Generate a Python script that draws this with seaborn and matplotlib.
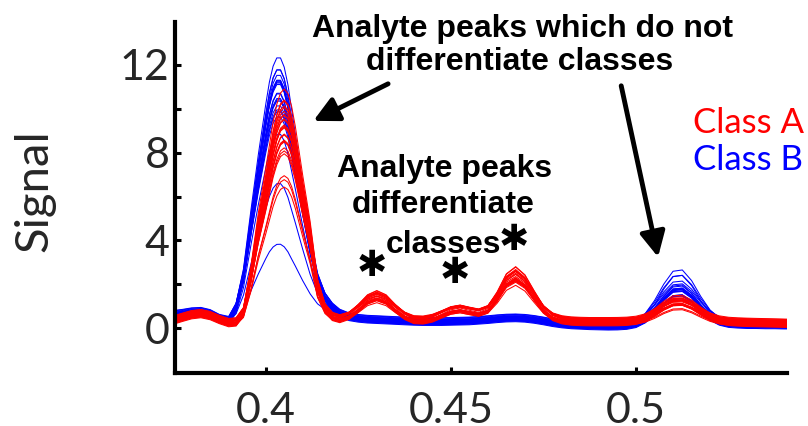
import numpy as np
import pandas as pd
import matplotlib
matplotlib.use("Agg")
import matplotlib.pyplot as plt
import seaborn as sns

# ---------------- data ----------------
# sampling positions of the traces
x_grid = [0.375, 0.3775, 0.38, 0.3825, 0.385, 0.3875, 0.39,
          0.392, 0.394, 0.396, 0.398, 0.400, 0.401, 0.402, 0.403, 0.404, 0.405, 0.406, 0.407, 0.408,
          0.410, 0.412, 0.414, 0.416, 0.418, 0.420,
          0.4225, 0.425, 0.4275, 0.43, 0.4325, 0.435, 0.4375, 0.44, 0.4425, 0.445, 0.4475, 0.45, 0.4525,
          0.455, 0.4575, 0.46, 0.4625, 0.465, 0.4675, 0.47, 0.4725, 0.475, 0.4775, 0.48, 0.4825,
          0.485, 0.4875, 0.49, 0.4925, 0.495, 0.4975, 0.5, 0.5025, 0.505, 0.5075, 0.51, 0.5125,
          0.515, 0.5175, 0.52, 0.5225, 0.525, 0.5275, 0.53, 0.5325, 0.535, 0.5375, 0.54, 0.5425]

# Class B (blue) baseline profile
blue_base = [0.60, 0.65, 0.72, 0.74, 0.64, 0.40, 0.20,
             0.18, 0.22, 0.26, 0.30, 0.33, 0.35, 0.36, 0.37, 0.38, 0.39, 0.40, 0.40, 0.42,
             0.45, 0.55, 0.62, 0.65, 0.62, 0.55,
             0.48, 0.42, 0.38, 0.36, 0.34, 0.32, 0.30, 0.28, 0.27, 0.27, 0.27, 0.28, 0.29,
             0.30, 0.33, 0.36, 0.40, 0.43, 0.44, 0.42, 0.37, 0.30, 0.22, 0.16, 0.12,
             0.10, 0.08, 0.07, 0.06, 0.06, 0.06, 0.06, 0.07, 0.08, 0.09, 0.10, 0.10,
             0.11, 0.12, 0.13, 0.14, 0.14, 0.14, 0.13, 0.13, 0.12, 0.12, 0.11, 0.11]

# Class A (red) baseline profile
red_base = [0.35, 0.48, 0.60, 0.65, 0.56, 0.38, 0.22,
            0.18, 0.18, 0.22, 0.25, 0.28, 0.30, 0.32, 0.33, 0.34, 0.35, 0.36, 0.37, 0.38,
            0.40, 0.40, 0.38, 0.36, 0.32, 0.28,
            0.28, 0.28, 0.28, 0.28, 0.28, 0.28, 0.28, 0.28, 0.28, 0.29, 0.30, 0.31, 0.32,
            0.33, 0.34, 0.35, 0.35, 0.35, 0.35, 0.35, 0.34, 0.33, 0.32, 0.31, 0.30,
            0.29, 0.28, 0.28, 0.28, 0.28, 0.28, 0.28, 0.28, 0.29, 0.30, 0.30, 0.30,
            0.30, 0.30, 0.29, 0.28, 0.27, 0.26, 0.25, 0.24, 0.23, 0.22, 0.21, 0.20]

# main analyte peak shape (unit height), per class
blue_main = [0, 0, 0, 0, 0, 0.002, 0.012,
             0.07, 0.20, 0.42, 0.63, 0.82, 0.905, 0.965, 0.996, 0.995, 0.959, 0.891, 0.797, 0.70,
             0.50, 0.30, 0.15, 0.07, 0.03, 0.01,
             0.001, 0, 0, 0, 0, 0, 0, 0, 0, 0, 0, 0, 0,
             0, 0, 0, 0, 0, 0, 0, 0, 0, 0, 0, 0,
             0, 0, 0, 0, 0, 0, 0, 0, 0, 0, 0, 0,
             0, 0, 0, 0, 0, 0, 0, 0, 0, 0, 0, 0]
red_main = [0, 0, 0, 0, 0, 0, 0.002,
            0.01, 0.06, 0.24, 0.47, 0.66, 0.76, 0.86, 0.936, 0.984, 1.0, 0.980, 0.923, 0.835,
            0.62, 0.42, 0.17, 0.06, 0.02, 0.005,
            0, 0, 0, 0, 0, 0, 0, 0, 0, 0, 0, 0, 0,
            0, 0, 0, 0, 0, 0, 0, 0, 0, 0, 0, 0,
            0, 0, 0, 0, 0, 0, 0, 0, 0, 0, 0, 0,
            0, 0, 0, 0, 0, 0, 0, 0, 0, 0, 0, 0]

# differentiating peaks (Class A only), mean height
red_minor = [0, 0, 0, 0, 0, 0, 0,
             0, 0, 0, 0, 0, 0, 0, 0, 0, 0, 0, 0, 0,
             0, 0, 0, 0, 0.02, 0.10,
             0.29, 0.62, 0.99, 1.15, 0.99, 0.62, 0.29, 0.10, 0.08, 0.16, 0.33, 0.50, 0.56,
             0.46, 0.37, 0.51, 1.04, 1.73, 2.00, 1.69, 1.09, 0.53, 0.20, 0.06, 0.01,
             0, 0, 0, 0, 0, 0, 0, 0, 0, 0, 0, 0,
             0, 0, 0, 0, 0, 0, 0, 0, 0, 0, 0, 0]

# late peak near 0.51 (unit height)
late_peak = [0, 0, 0, 0, 0, 0, 0,
             0, 0, 0, 0, 0, 0, 0, 0, 0, 0, 0, 0, 0,
             0, 0, 0, 0, 0, 0,
             0, 0, 0, 0, 0, 0, 0, 0, 0, 0, 0, 0, 0,
             0, 0, 0, 0, 0, 0, 0, 0, 0, 0, 0, 0,
             0, 0, 0, 0, 0.004, 0.02, 0.071, 0.198, 0.43, 0.726, 0.956, 0.98,
             0.783, 0.487, 0.236, 0.089, 0.026, 0.006, 0.001, 0, 0, 0, 0, 0]

# per-trace amplitudes
blue_main_amp = [11.9, 11.5, 11.3, 11.2, 11.0, 10.8, 10.7, 10.5, 10.3, 10.1, 9.9,
                 9.7, 9.5, 11.1, 10.9, 10.6, 10.2, 9.8, 9.2, 8.6, 6.2, 3.5]
blue_late_amp = [2.5, 2.4, 2.2, 1.9, 1.8, 1.7, 1.75, 1.6, 1.65, 1.7, 1.5,
                 1.8, 1.6, 1.55, 1.7, 1.9, 1.45, 1.6, 1.75, 1.5, 1.4, 1.3]
blue_offset = [0.10, -0.05, 0.15, 0.00, -0.10, 0.05, 0.20, -0.15, 0.08, -0.02, 0.12,
               -0.08, 0.03, -0.12, 0.06, 0.18, -0.06, 0.00, 0.10, -0.10, 0.04, -0.04]

red_main_amp = [10.5, 10.1, 9.9, 9.7, 9.5, 9.3, 9.2, 9.0, 8.9, 8.7, 8.5, 8.3, 8.1,
                7.9, 7.7, 9.6, 9.1, 8.8, 8.2, 7.5, 6.7, 6.4, 6.1, 9.4, 8.6]
red_minor_amp = [1.20, 1.10, 1.00, 0.90, 1.05, 0.95, 1.15, 0.85, 1.00, 1.10, 0.90, 1.00, 1.05,
                 0.95, 1.20, 0.80, 1.00, 1.10, 0.90, 1.00, 0.85, 1.15, 0.95, 1.05, 1.00]
red_late_amp = [0.90, 1.10, 0.80, 1.00, 0.70, 0.95, 1.05, 0.85, 0.90, 1.00, 0.75, 0.90, 1.10,
                0.80, 0.95, 0.60, 1.00, 0.85, 0.90, 1.05, 0.70, 0.80, 1.00, 0.95, 0.90]
red_offset = [0.05, -0.10, 0.15, 0.00, -0.15, 0.10, -0.05, 0.20, -0.08, 0.08, 0.00, -0.12, 0.12,
              -0.03, 0.03, 0.18, -0.18, 0.06, -0.06, 0.10, -0.10, 0.02, -0.02, 0.14, -0.14]

class_names = ["Class A", "Class B"]
class_colors = ["red", "blue"]
x_ticks = [0.4, 0.45, 0.5]
x_ticklabels = ["0.4", "0.45", "0.5"]
y_ticks = [0, 4, 8, 12]
y_minor = [2, 6, 10]

# ---------------- build long-form table ----------------
xg = np.array(x_grid)
frames = []
for i in range(len(blue_main_amp)):
    y = (np.array(blue_base) + blue_main_amp[i] * np.array(blue_main)
         + blue_late_amp[i] * np.array(late_peak) + blue_offset[i])
    frames.append(pd.DataFrame({"x": xg, "signal": y, "cls": class_names[1], "trace": f"B{i}"}))
for i in range(len(red_main_amp)):
    y = (np.array(red_base) + red_main_amp[i] * np.array(red_main)
         + red_minor_amp[i] * np.array(red_minor)
         + red_late_amp[i] * np.array(late_peak) + red_offset[i])
    frames.append(pd.DataFrame({"x": xg, "signal": y, "cls": class_names[0], "trace": f"A{i}"}))
df = pd.concat(frames, ignore_index=True)

# ---------------- plot ----------------
sns.set_theme(style="white")
plt.rcParams["font.family"] = ["Lato", "DejaVu Sans"]

W, H = 808, 426
fig = plt.figure(figsize=(W / 100, H / 100), dpi=100)
L, R, T, B = 175, 787, 22, 373
ax = fig.add_axes([L / W, (H - B) / H, (R - L) / W, (B - T) / H])

sns.lineplot(data=df, x="x", y="signal", hue="cls", units="trace", estimator=None,
             sort=False, hue_order=[class_names[1], class_names[0]],
             palette={class_names[0]: class_colors[0], class_names[1]: class_colors[1]},
             linewidth=0.75, legend=False, ax=ax)

ax.set_xlim(0.37551, 0.54077)
ax.set_ylim(-2.05, 13.96)
for s in ["top", "right"]:
    ax.spines[s].set_visible(False)
for s in ["left", "bottom"]:
    ax.spines[s].set_linewidth(3)
    ax.spines[s].set_color("black")

ax.set_xticks(x_ticks)
ax.set_xticklabels(x_ticklabels)
ax.set_yticks(y_ticks)
ax.set_yticks(y_minor, minor=True)
ax.tick_params(axis="both", which="both", direction="in", length=4, width=2.2,
               color="black", left=True, bottom=True)
ax.tick_params(axis="y", which="major", labelsize=31, pad=4)
ax.tick_params(axis="x", which="major", labelsize=31, pad=14)
ax.set_xlabel("")
ax.set_ylabel("Signal", fontsize=34)
ax.yaxis.set_label_coords(-0.196, 0.521)

# class labels
fig.text(693 / W, 1 - 133 / H, class_names[0], color=class_colors[0], fontsize=25, va="baseline")
fig.text(693 / W, 1 - 170 / H, class_names[1], color=class_colors[1], fontsize=25, va="baseline")

# annotations
bold = dict(family=["Liberation Sans", "DejaVu Sans"], fontweight="bold", fontsize=23,
            ha="center", va="baseline", color="black")
fig.text(523 / W, 1 - 37 / H, "Analyte peaks which do not", **bold)
fig.text(520 / W, 1 - 70 / H, "differentiate classes", **bold)
fig.text(445 / W, 1 - 177 / H, "Analyte peaks", **bold)
fig.text(443.5 / W, 1 - 213 / H, "differentiate", **bold)
fig.text(443 / W, 1 - 253 / H, "classes", **bold)

for (px, py) in [(371.5, 265.5), (455, 273), (513.5, 240.5)]:
    fig.text(px / W, 1 - py / H, "\u2731", family=["DejaVu Sans"], fontweight="bold",
             fontsize=26, ha="center", va="center", color="black")

arrow = dict(arrowstyle="-|>,head_length=0.75,head_width=0.38", lw=3.5, color="black",
             shrinkA=0, shrinkB=0, mutation_scale=20)
ax.annotate("", xy=(0.41287, 9.45), xytext=(0.43305, 11.14), arrowprops=arrow,
            annotation_clip=False)
ax.annotate("", xy=(0.50595, 3.24), xytext=(0.4960, 11.05), arrowprops=arrow,
            annotation_clip=False)

fig.savefig("out.png", dpi=100)
